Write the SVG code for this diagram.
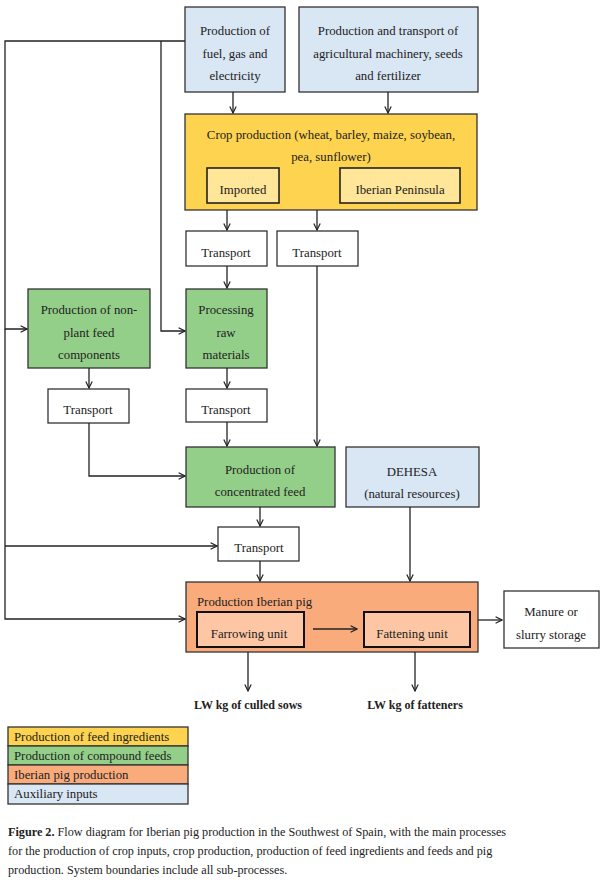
<svg xmlns="http://www.w3.org/2000/svg" width="600" height="892" viewBox="0 0 600 892">
<style>
text{font-family:"Liberation Serif",serif;font-size:12.8px;fill:#222;text-anchor:middle}
.b{fill:#fff;stroke:#333;stroke-width:1.3}
.blue{fill:#d9e6f4;stroke:#333;stroke-width:1.3}
.yel{fill:#fdd350;stroke:#333;stroke-width:1.3}
.yi{fill:#ffe698;stroke:#222;stroke-width:1.6}
.grn{fill:#93cf88;stroke:#333;stroke-width:1.3}
.org{fill:#f9ab7c;stroke:#333;stroke-width:1.3}
.oi{fill:#fdc7a5;stroke:#111;stroke-width:2}
.c line,.c polyline{stroke:#222;stroke-width:1.3;fill:none;marker-end:url(#a)}
.l{text-anchor:start}
.bold{font-weight:bold;font-size:12px}
.cap{font-size:12.2px;text-anchor:start}
</style>
<defs><marker id="a" viewBox="0 0 10 10" refX="9" refY="5" markerWidth="8" markerHeight="8" markerUnits="userSpaceOnUse" orient="auto"><path d="M1 1L9 5L1 9" fill="none" stroke="#222" stroke-width="1.5"/></marker></defs>
<g id="fuel"><rect class="blue" x="185" y="7" width="100" height="85"/><text x="235" y="35">Production of</text><text x="235" y="58">fuel, gas and</text><text x="235" y="80">electricity</text></g>
<g id="mach"><rect class="blue" x="299" y="7" width="179" height="85"/><text x="388" y="35">Production and transport of</text><text x="388" y="58">agricultural machinery, seeds</text><text x="388" y="80">and fertilizer</text></g>
<g id="crop"><rect class="yel" x="185" y="114" width="292" height="96"/><text x="331" y="139">Crop production (wheat, barley, maize, soybean,</text><text x="331" y="161">pea, sunflower)</text>
<rect class="yi" x="207" y="168" width="72" height="35"/><text x="243" y="194">Imported</text>
<rect class="yi" x="340" y="168" width="120" height="35"/><text x="400" y="194">Iberian Peninsula</text></g>
<g id="t1"><rect class="b" x="186" y="231" width="81" height="35"/><text x="226" y="257">Transport</text></g>
<g id="t2"><rect class="b" x="277" y="231" width="81" height="35"/><text x="317" y="257">Transport</text></g>
<g id="nonplant"><rect class="grn" x="28" y="289" width="122" height="79"/><text x="89" y="314">Production of non-</text><text x="89" y="337">plant feed</text><text x="89" y="359">components</text></g>
<g id="proc"><rect class="grn" x="186" y="289" width="81" height="79"/><text x="226" y="314">Processing</text><text x="226" y="337">raw</text><text x="226" y="359">materials</text></g>
<g id="t3"><rect class="b" x="48" y="389" width="81" height="34"/><text x="88" y="414">Transport</text></g>
<g id="t4"><rect class="b" x="186" y="389" width="81" height="33"/><text x="226" y="414">Transport</text></g>
<g id="conc"><rect class="grn" x="186" y="447" width="149" height="60"/><text x="260" y="474">Production of</text><text x="260" y="496">concentrated feed</text></g>
<g id="dehesa"><rect class="blue" x="346" y="447" width="133" height="60"/><text x="412" y="476">DEHESA</text><text x="412" y="498">(natural resources)</text></g>
<g id="t5"><rect class="b" x="218" y="527" width="81" height="34"/><text x="259" y="552">Transport</text></g>
<g id="pig"><rect class="org" x="186" y="582" width="292" height="70"/><text class="l" x="197" y="606">Production Iberian pig</text>
<rect class="oi" x="197" y="612" width="107" height="35"/><text x="249" y="638">Farrowing unit</text>
<rect class="oi" x="364" y="612" width="106" height="35"/><text x="412" y="638">Fattening unit</text></g>
<g id="manure"><rect class="b" x="504" y="591" width="95" height="57"/><text x="551" y="616">Manure or</text><text x="551" y="639">slurry storage</text></g>
<g id="out1"><text class="bold" x="248" y="709">LW kg of culled sows</text></g>
<g id="out2"><text class="bold" x="415" y="709">LW kg of fatteners</text></g>
<g class="c" id="connectors">
<line x1="233" y1="92" x2="233" y2="113"/>
<line x1="388" y1="92" x2="388" y2="113"/>
<line x1="227" y1="210" x2="227" y2="230"/>
<line x1="317" y1="210" x2="317" y2="230"/>
<line x1="227" y1="266" x2="227" y2="288"/>
<line x1="317" y1="266" x2="317" y2="446"/>
<polyline points="185,41 5,41 5,329 27,329"/>
<polyline points="161,41 161,331 185,331"/>
<line x1="89" y1="368" x2="89" y2="388"/>
<line x1="227" y1="368" x2="227" y2="388"/>
<line x1="227" y1="422" x2="227" y2="446"/>
<polyline points="89,423 89,476 185,476"/>
<line x1="260" y1="507" x2="260" y2="526"/>
<polyline points="5,329 5,619 185,619"/>
<line x1="5" y1="546" x2="217" y2="546"/>
<line x1="260" y1="561" x2="260" y2="581"/>
<line x1="410" y1="507" x2="410" y2="581"/>
<line x1="313" y1="629" x2="357" y2="629"/>
<line x1="478" y1="620" x2="502" y2="620"/>
<line x1="248" y1="652" x2="248" y2="691"/>
<line x1="415" y1="652" x2="415" y2="691"/>
</g>
<g id="legend">
<rect class="yel" x="8" y="727" width="180" height="19"/><text class="l" x="14" y="741">Production of feed ingredients</text>
<rect class="grn" x="8" y="746" width="180" height="19"/><text class="l" x="14" y="760">Production of compound feeds</text>
<rect class="org" x="8" y="765" width="180" height="19"/><text class="l" x="14" y="779">Iberian pig production</text>
<rect class="blue" x="8" y="784" width="180" height="20"/><text class="l" x="14" y="798">Auxiliary inputs</text>
</g>
<g id="caption">
<text class="cap" x="8" y="836"><tspan font-weight="bold">Figure 2.</tspan> Flow diagram for Iberian pig production in the Southwest of Spain, with the main processes</text>
<text class="cap" x="8" y="855">for the production of crop inputs, crop production, production of feed ingredients and feeds and pig</text>
<text class="cap" x="8" y="874">production. System boundaries include all sub-processes.</text>
</g>
</svg>
